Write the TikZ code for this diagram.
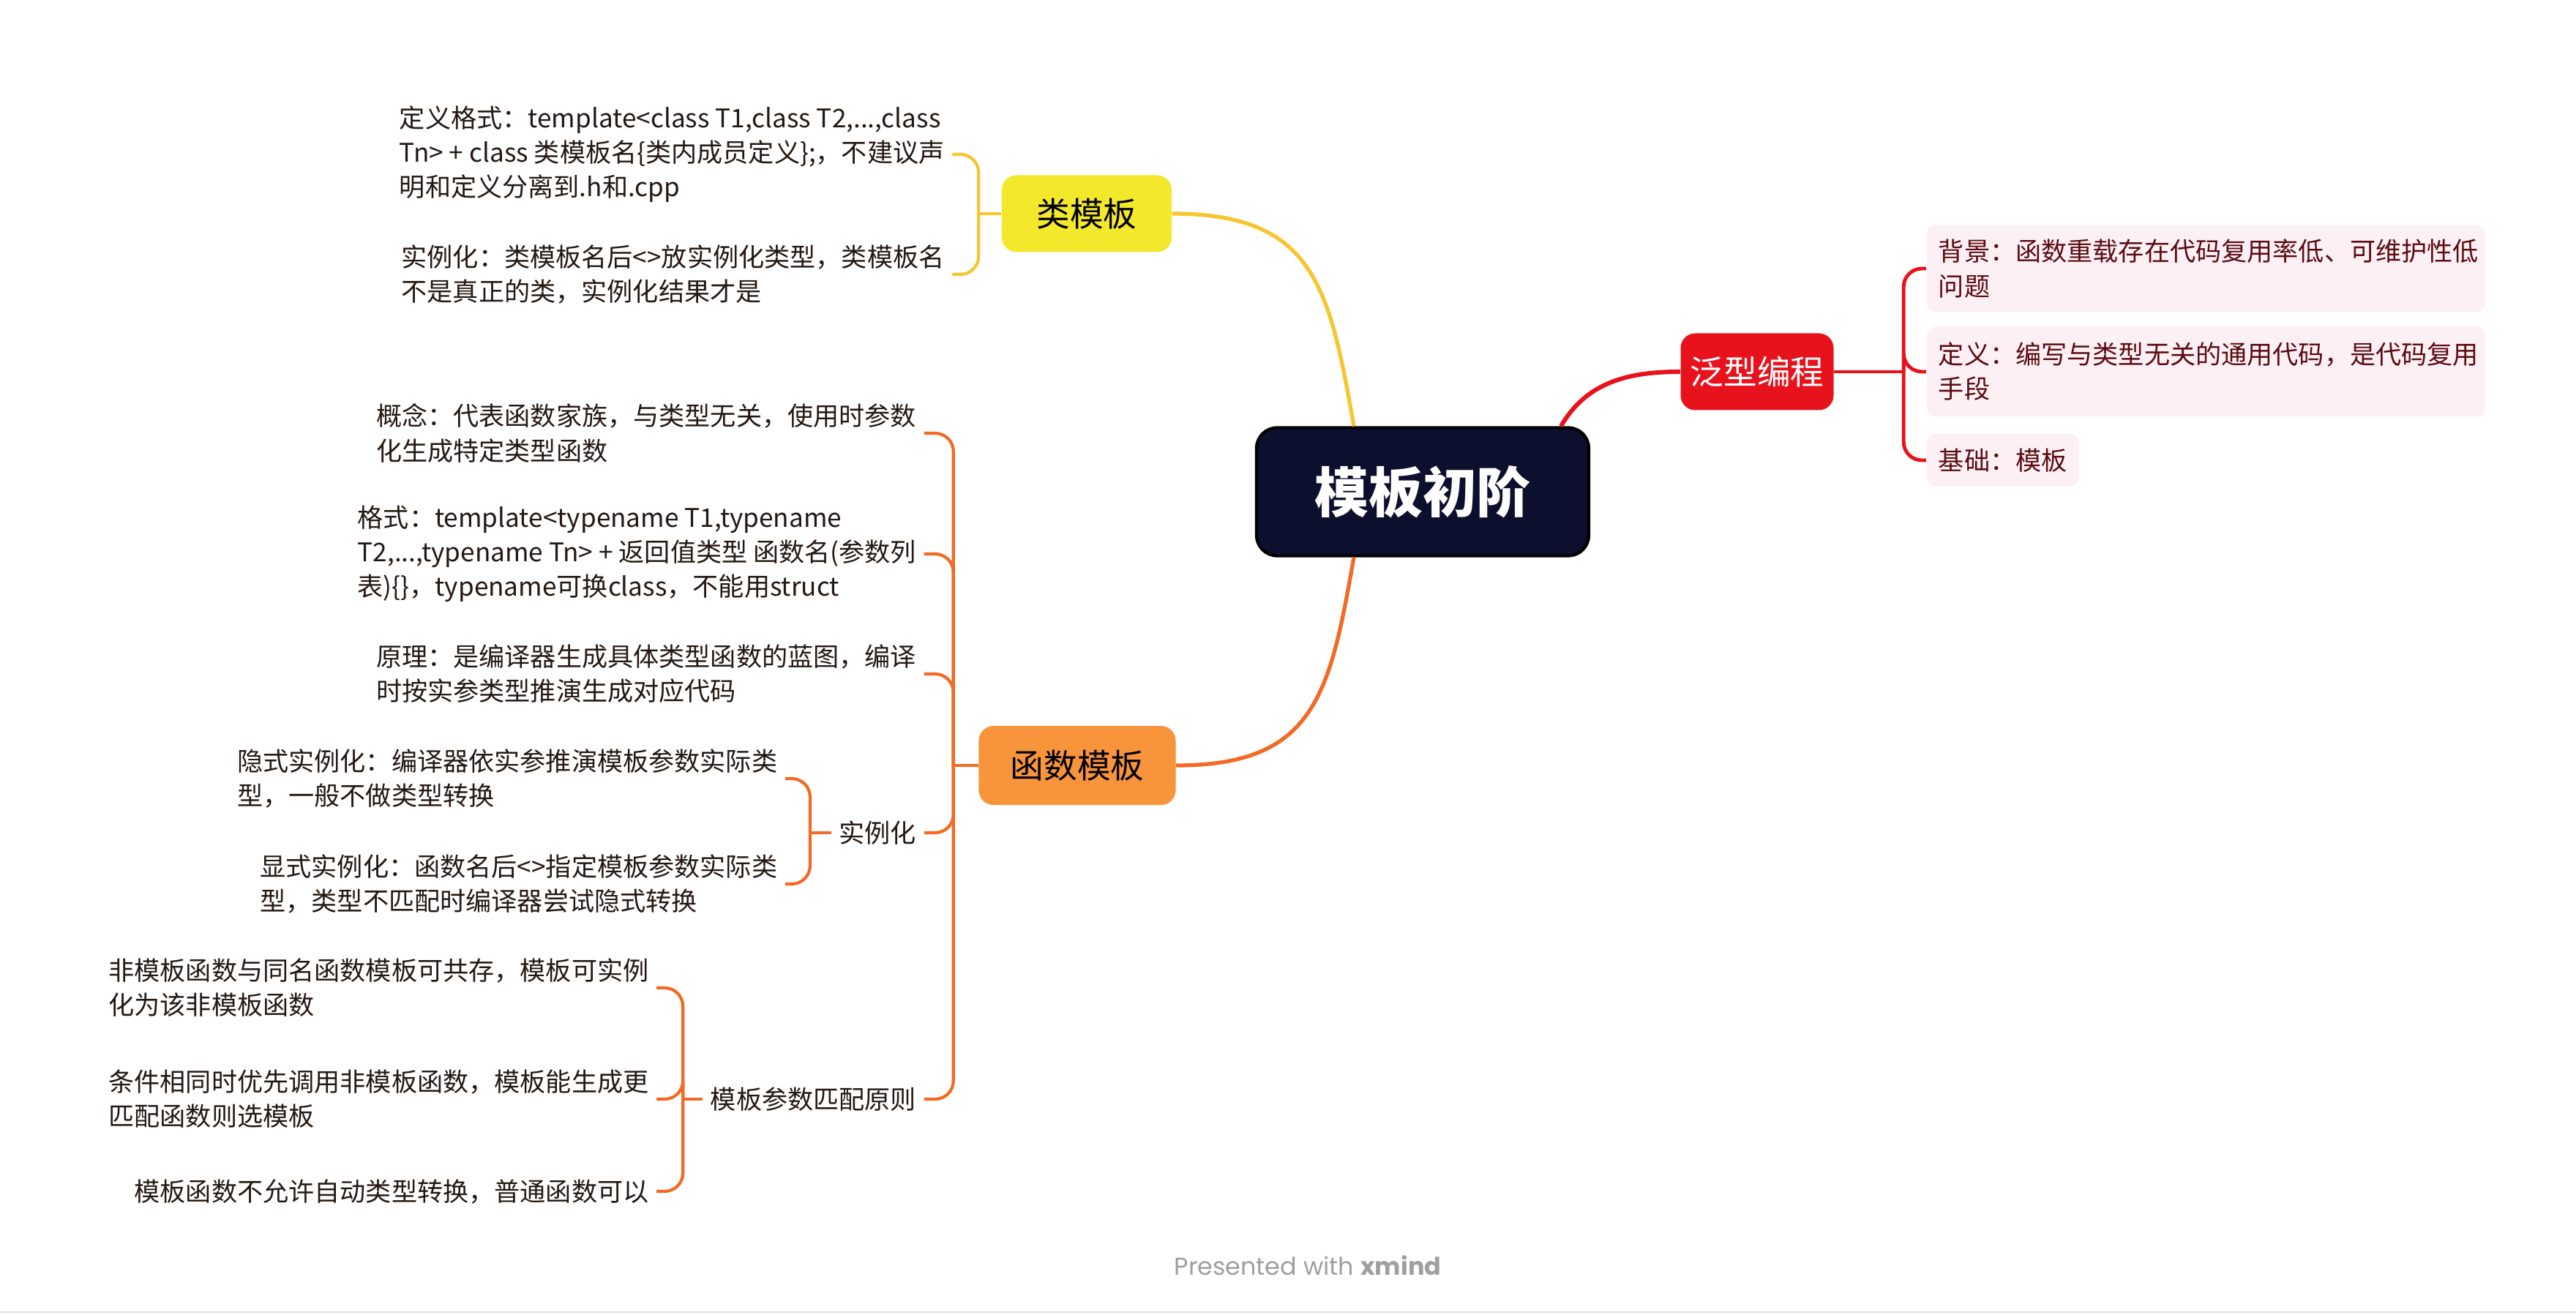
\documentclass[tikz,border=0pt]{standalone}
\usepackage{fontspec}
\setmainfont{Noto Sans CJK SC}
\newfontfamily\footfont{Poppins}
\usetikzlibrary{positioning}

\definecolor{rootnavy}{HTML}{0D0F2E}
\definecolor{clsyellow}{HTML}{F3E82C}
\definecolor{clsline}{HTML}{F7C52D}
\definecolor{fnorange}{HTML}{F8943C}
\definecolor{fnline}{HTML}{F26A24}
\definecolor{genred}{HTML}{E8121C}
\definecolor{cardpink}{HTML}{FDF0F5}
\definecolor{cardtext}{HTML}{5A0C10}
\definecolor{leaftext}{HTML}{241812}

\begin{document}
\begin{tikzpicture}[
    on grid, % offsets are measured centre to centre (or from the anchor named)
    every node/.style={align=left, inner sep=0.1cm, font=\fontsize{10pt}{13.4pt}\selectfont},
    central/.style={rectangle, rounded corners=0.28cm, fill=rootnavy, draw=black, line width=1.2pt, text=white, minimum width=4.54cm, minimum height=1.75cm, align=center, font=\bfseries\fontsize{21pt}{24pt}\selectfont}, % big dark box in the middle
    topic/.style={rectangle, rounded corners=0.2cm, minimum height=1.05cm, align=center, font=\fontsize{13pt}{15pt}\selectfont},
    leaf/.style={text=leaftext},
    card/.style={rectangle, rounded corners=0.12cm, fill=cardpink, text=cardtext, inner xsep=0.16cm},
    yline/.style={draw=clsline, line width=1.2pt, rounded corners=0.25cm},
    oline/.style={draw=fnline, line width=1.2pt, rounded corners=0.25cm},
    rline/.style={draw=genred, line width=1.4pt, rounded corners=0.25cm}
]

% Page frame (fixes the margins)
\useasboundingbox (-19.44,6.72) rectangle (15.76,-11.24);
\draw[gray!25, line width=0.6pt] (-19.44,-11.21) -- (15.76,-11.21);

% Central topic
\node[central] (root) {模板初阶};

% Main topics
\node[topic, fill=clsyellow, minimum width=2.32cm, above left=3.80cm and 4.59cm of root] (cls) {类模板};
\node[topic, fill=fnorange, minimum width=2.69cm, minimum height=1.08cm, below left=3.74cm and 4.72cm of root] (func) {函数模板};
\node[topic, fill=genred, text=white, minimum width=2.09cm, above right=1.64cm and 4.57cm of root] (gen) {泛型编程};

% Class template leaves
\node[leaf, above left=0.81cm and 0.67cm of cls.west, anchor=east] (clsDef) {定义格式：template<class T1,class T2,...,class\\Tn> + class 类模板名\{类内成员定义\};，不建议声\\明和定义分离到.h和.cpp};
\node[leaf, below left=0.83cm and 0.67cm of cls.west, anchor=east] (clsInst) {实例化：类模板名后<>放实例化类型，类模板名\\不是真正的类，实例化结果才是};

% Function template leaves
\node[leaf, above left=4.54cm and 0.74cm of func.west, anchor=east] (fnIdea) {概念：代表函数家族，与类型无关，使用时参数\\化生成特定类型函数};
\node[leaf, above left=2.89cm and 0.74cm of func.west, anchor=east] (fnForm) {格式：template<typename T1,typename\\T2,...,typename Tn> + 返回值类型 函数名(参数列\\表)\{\}，typename可换class，不能用struct};
\node[leaf, above left=1.25cm and 0.74cm of func.west, anchor=east] (fnRule) {原理：是编译器生成具体类型函数的蓝图，编译\\时按实参类型推演生成对应代码};
\node[leaf, below left=0.92cm and 0.74cm of func.west, anchor=east] (fnInst) {实例化};
\node[leaf, below left=4.56cm and 0.74cm of func.west, anchor=east] (fnMatch) {模板参数匹配原则};

% Instantiation kinds
\node[leaf, above left=0.74cm and 0.63cm of fnInst.west, anchor=east] (implInst) {隐式实例化：编译器依实参推演模板参数实际类\\型，一般不做类型转换};
\node[leaf, below left=0.70cm and 0.63cm of fnInst.west, anchor=east] (explInst) {显式实例化：函数名后<>指定模板参数实际类\\型，类型不匹配时编译器尝试隐式转换};

% Matching rules
\node[leaf, above left=1.52cm and 0.63cm of fnMatch.west, anchor=east] (matchA) {非模板函数与同名函数模板可共存，模板可实例\\化为该非模板函数};
\node[leaf, left=0.63cm of fnMatch.west, anchor=east] (matchB) {条件相同时优先调用非模板函数，模板能生成更\\匹配函数则选模板};
\node[leaf, below left=1.26cm and 0.63cm of fnMatch.west, anchor=east] (matchC) {模板函数不允许自动类型转换，普通函数可以};

% Generic programming cards
\node[card, text width=7.31cm, minimum height=1.19cm, above right=1.41cm and 1.26cm of gen.east, anchor=west] (genBg) {背景：函数重载存在代码复用率低、可维护性低\\问题};
\node[card, text width=7.31cm, minimum height=1.23cm, right=1.26cm of gen.east, anchor=west] (genDef) {定义：编写与类型无关的通用代码，是代码复用\\手段};
\node[card, minimum height=0.72cm, below right=1.21cm and 1.26cm of gen.east, anchor=west] (genBase) {基础：模板};

% Footer
\node[font=\footfont\fontsize{9.5pt}{11pt}\selectfont, text=gray!75, below left=10.57cm and 1.57cm of root] (credit) {Presented with \textbf{xmind}};

% Junction points of the brackets
\coordinate[left=0.31cm of cls.west] (clsJ);
\coordinate[left=0.34cm of func.west] (funcJ);
\coordinate[left=0.29cm of fnInst.west] (instJ);
\coordinate[left=0.27cm of fnMatch.west] (matchJ);
\coordinate[right=0.95cm of gen.east] (genJ);

% Main branches
\path[draw=clsline, line width=1.5pt] ([xshift=-0.94cm]root.north) to[out=100, in=0, looseness=1.3] (cls.east);
\path[draw=fnline, line width=1.5pt] ([xshift=-0.94cm]root.south) to[out=-100, in=0, looseness=1.3] (func.east);
\path[draw=genred, line width=1.7pt] ([xshift=1.89cm]root.north) to[out=60, in=180] (gen.west);

% Class template bracket
\path[yline] (cls.west) -- (clsJ);
\path[yline] (clsJ) |- (clsDef.east);
\path[yline] (clsJ) |- (clsInst.east);

% Function template bracket
\path[oline] (func.west) -- (funcJ);
\path[oline] (funcJ) |- (fnIdea.east);
\path[oline] (funcJ) |- (fnForm.east);
\path[oline] (funcJ) |- (fnRule.east);
\path[oline] (funcJ) |- (fnInst.east);
\path[oline] (funcJ) |- (fnMatch.east);
\path[oline] (fnInst.west) -- (instJ);
\path[oline] (instJ) |- (implInst.east);
\path[oline] (instJ) |- (explInst.east);
\path[oline] (fnMatch.west) -- (matchJ);
\path[oline] (matchJ) |- (matchA.east);
\path[oline] (matchJ) |- (matchB.east);
\path[oline] (matchJ) |- (matchC.east);

% Generic programming bracket
\path[rline] (gen.east) -- (genJ);
\path[rline] (genJ) |- (genBg.west);
\path[rline] (genJ) |- (genDef.west);
\path[rline] (genJ) |- (genBase.west);

\end{tikzpicture}
\end{document}
